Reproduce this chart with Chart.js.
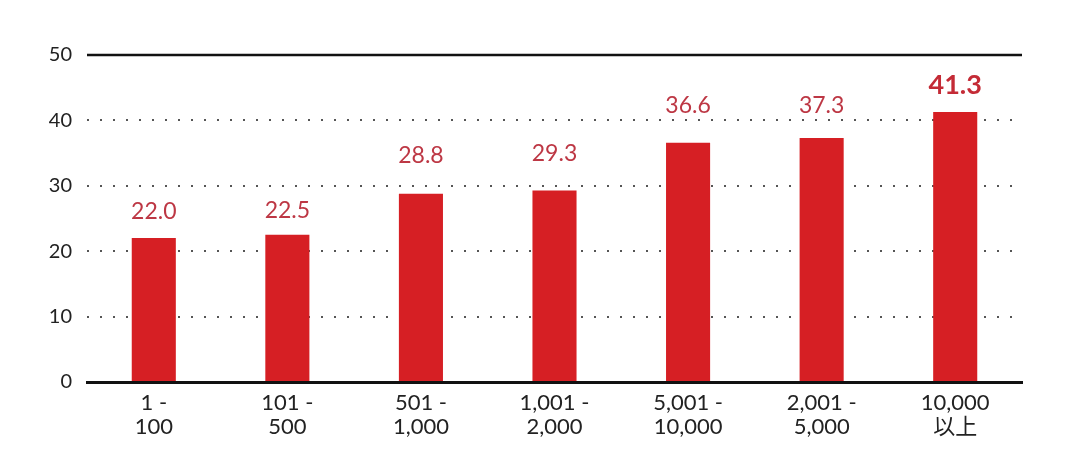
<!DOCTYPE html>
<html>
<head>
<meta charset="utf-8">
<script src="https://cdn.jsdelivr.net/npm/chart.js@4"></script>
<style>
    html, body { margin: 0; padding: 0; background: #ffffff; }
    #wrap { width: 1081px; height: 459px; }
</style>
</head>
<body>
<div id="wrap"><canvas id="barChart"></canvas></div>
<script>
const sizeLabels = [
    ["1 -", "100"],
    ["101 -", "500"],
    ["501 -", "1,000"],
    ["1,001 -", "2,000"],
    ["5,001 -", "10,000"],
    ["2,001 -", "5,000"],
    ["10,000", "以上"]
];

const sizeValues = [22.0, 22.5, 28.8, 29.3, 36.6, 37.3, 41.3];

const yTicks = [0, 10, 20, 30, 40, 50];

const fontFamily = "Lato, 'Noto Sans CJK JP', sans-serif";

// gap (px) between bar top and label baseline, labels sit in pairs
const labelGaps = [19, 17, 31, 29, 30, 25, 18];

const valueLabels = {
    id: "valueLabels",
    afterDatasetsDraw(chart) {
        const ctx = chart.ctx;
        const meta = chart.getDatasetMeta(0);
        ctx.save();
        ctx.textAlign = "center";
        ctx.textBaseline = "alphabetic";
        meta.data.forEach((bar, i) => {
            const last = i === sizeValues.length - 1;
            ctx.fillStyle = last ? "#c42b36" : "#bd3744";
            ctx.font = (last ? "bold 27px " : "23px ") + fontFamily;
            ctx.fillText(sizeValues[i].toFixed(1), bar.x, bar.y - labelGaps[i]);
        });
        ctx.restore();
    }
};

// solid top line at the axis max
const topLine = {
    id: "topLine",
    beforeDatasetsDraw(chart) {
        const ctx = chart.ctx;
        const y = chart.scales.y.getPixelForValue(yTicks[yTicks.length - 1]);
        ctx.save();
        ctx.strokeStyle = "#111111";
        ctx.lineWidth = 2.5;
        ctx.beginPath();
        ctx.moveTo(chart.chartArea.left, y);
        ctx.lineTo(chart.chartArea.right, y);
        ctx.stroke();
        ctx.restore();
    }
};

new Chart(
    document.getElementById("barChart"),
    {
        type: "bar",

        data: {
            labels: sizeLabels,

            datasets: [{
                data: sizeValues,
                backgroundColor: "#d61f24",
                barPercentage: 0.66,
                categoryPercentage: 0.5
            }]
        },

        options: {
            responsive: true,
            maintainAspectRatio: false,
            animation: false,
            layout: {
                padding: { top: 55, right: 59, bottom: 0, left: 0 }
            },
            plugins: {
                legend: { display: false },
                tooltip: { enabled: false }
            },
            scales: {
                x: {
                    afterFit(scale) { scale.height = 77; },
                    grid: { display: false, drawTicks: false },
                    border: { display: true, color: "#111111", width: 3 },
                    ticks: {
                        color: "#222222",
                        padding: 9,
                        maxRotation: 0,
                        font: { family: fontFamily, size: 22, lineHeight: 1.1 }
                    }
                },
                y: {
                    min: 0,
                    max: 50,
                    afterFit(scale) { scale.width = 87; },
                    afterBuildTicks(scale) {
                        scale.ticks = yTicks.map(v => ({ value: v }));
                    },
                    grid: {
                        drawTicks: false,
                        lineWidth: 2,
                        color: ctx => (ctx.tick && (ctx.tick.value === 0 || ctx.tick.value === 50)) ? "rgba(0,0,0,0)" : "#555555"
                    },
                    border: { display: false, dash: [2, 11] },
                    ticks: {
                        color: "#222222",
                        padding: 15,
                        font: { family: fontFamily, size: 20 }
                    }
                }
            }
        },

        plugins: [valueLabels, topLine]
    }
);
</script>
</body>
</html>
